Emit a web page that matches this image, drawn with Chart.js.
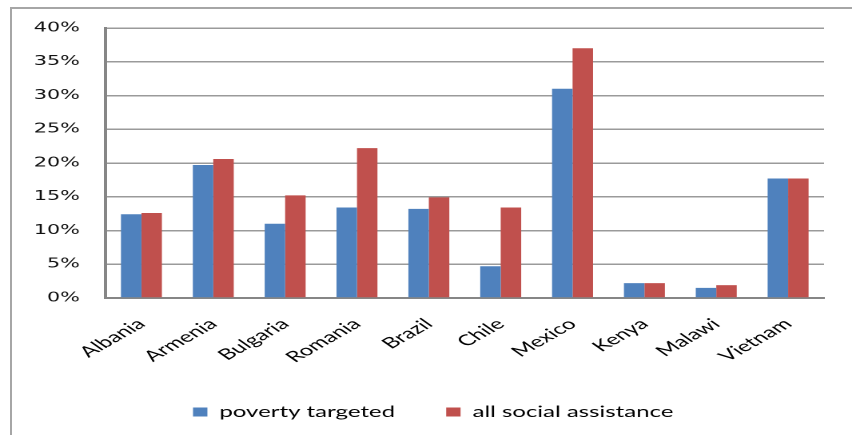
<!DOCTYPE html>
<html>
<head>
<meta charset="utf-8">
<script src="https://cdn.jsdelivr.net/npm/chart.js@4.4.0/dist/chart.umd.min.js"></script>
<style>
  html, body { margin: 0; padding: 0; background: #fff; overflow: hidden; }
  #frame {
    position: absolute; left: 10px; top: 7px; width: 900px; height: 500px;
    border-left: 2px solid #a6a6a6; border-top: 2px solid #a6a6a6;
  }
  /* the chart is laid out narrow and stretched sideways */
  #wrap {
    position: absolute; left: 0; top: 0; width: 533px; height: 435px;
    transform: scaleX(1.5985); transform-origin: 0 0;
  }
</style>
</head>
<body>
<div id="frame"></div>
<div id="wrap"><canvas id="chart" width="533" height="435"></canvas></div>
<script>
  const countries = ['Albania', 'Armenia', 'Bulgaria', 'Romania', 'Brazil', 'Chile', 'Mexico', 'Kenya', 'Malawi', 'Vietnam'];
  const povertyTargeted = [12.4, 19.7, 11.0, 13.4, 13.2, 4.7, 31.0, 2.2, 1.5, 17.7];
  const allSocialAssistance = [12.6, 20.6, 15.2, 22.2, 14.9, 13.4, 37.0, 2.2, 1.9, 17.7];
  const yTicks = [0, 5, 10, 15, 20, 25, 30, 35, 40];

  new Chart(document.getElementById('chart'), {
    type: 'bar',
    data: {
      labels: countries,
      datasets: [{
        label: 'poverty targeted',
        data: povertyTargeted,
        backgroundColor: '#4f81bd',
        categoryPercentage: 0.57,
        barPercentage: 1.0
      }, {
        label: 'all social assistance',
        data: allSocialAssistance,
        backgroundColor: '#c0504d',
        categoryPercentage: 0.57,
        barPercentage: 1.0
      }]
    },
    options: {
      responsive: false,
      animation: false,
      devicePixelRatio: 2,
      layout: { padding: { left: 12, right: 3, top: 28, bottom: 5.5 } },
      plugins: {
        tooltip: { enabled: false },
        legend: {
          position: 'bottom',
          labels: {
            boxWidth: 9,
            boxHeight: 9,
            padding: 32,
            color: '#000',
            font: { family: 'Lato', size: 15 }
          }
        }
      },
      scales: {
        x: {
          grid: { display: false, drawTicks: false },
          border: { display: true, color: '#868686', width: 2 },
          ticks: {
            autoSkip: false,
            minRotation: 42,
            maxRotation: 42,
            padding: 17,
            color: '#000',
            font: { family: 'Lato', size: 15 }
          },
          afterFit(scale) { scale.height = 74.5; }
        },
        y: {
          min: 0,
          max: 40,
          afterBuildTicks(scale) { scale.ticks = yTicks.map(v => ({ value: v })); },
          grid: { color: '#9a9a9a', lineWidth: 1.5, drawTicks: false },
          border: { display: true, color: '#868686', width: 2 },
          ticks: {
            padding: 16,
            color: '#111',
            font: { family: 'DejaVu Sans', size: 13 },
            callback: v => v + '%'
          },
          afterFit(scale) { scale.width = 54; }
        },
        // empty spacer on the right so the plot stops short of the edge
        spacer: {
          type: 'linear',
          position: 'right',
          grid: { display: false },
          border: { display: false },
          ticks: { display: false },
          afterFit(scale) { scale.width = 14.5; }
        }
      }
    }
  });
</script>
</body>
</html>
